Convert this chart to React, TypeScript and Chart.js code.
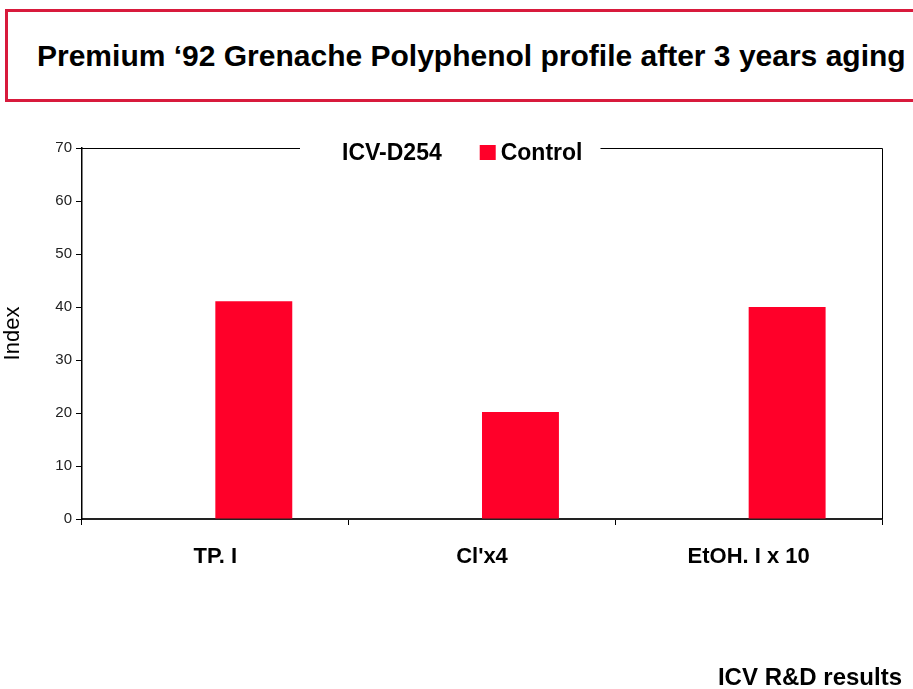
import React, { useEffect, useRef } from "react";
import { Chart, registerables } from "chart.js";

Chart.register(...registerables);

const categories = ["TP. I", "Cl'x4", "EtOH. I x 10"];
const seriesNames = ["ICV-D254", "Control"];
const icvValues = [0, 0, 0];
const controlValues = [41.1, 20.2, 40.0];
const yTicks = [0, 10, 20, 30, 40, 50, 60, 70];

const RED = "#FF0029";
const FONT = "'Liberation Sans', Arial, sans-serif";

const frameLegendPlugin = {
  id: "frameLegend",
  afterDraw(chart: any) {
    const { ctx, chartArea } = chart;
    const { left, right, top, bottom } = chartArea;
    ctx.save();
    ctx.font = `bold 23px ${FONT}`;
    const box = 16;
    const gapBoxText = 5;
    const itemGap = 38;
    const w1 = ctx.measureText(seriesNames[0]).width;
    const w2 = ctx.measureText(seriesNames[1]).width;
    const total = box + gapBoxText + w1 + itemGap + box + gapBoxText + w2;
    const startX = left + 239;
    const gapL = startX - 21;
    const gapR = startX + total + 18;
    // frame: top and right edges of plot
    ctx.strokeStyle = "#000";
    ctx.lineWidth = 1;
    ctx.beginPath();
    ctx.moveTo(left, top + 0.5);
    ctx.lineTo(gapL, top + 0.5);
    ctx.moveTo(gapR, top + 0.5);
    ctx.lineTo(right + 0.5, top + 0.5);
    ctx.lineTo(right + 0.5, bottom);
    ctx.stroke();
    // legend items
    const cy = top + 5;
    let x = startX;
    ctx.fillStyle = "#FFFFFF";
    ctx.fillRect(x, cy - box / 2, box, 15);
    x += box + gapBoxText;
    ctx.fillStyle = "#000";
    ctx.textBaseline = "middle";
    ctx.textAlign = "left";
    ctx.fillText(seriesNames[0], x, cy + 1);
    x += w1 + itemGap;
    ctx.fillStyle = RED;
    ctx.fillRect(x, cy - box / 2, box, 15);
    x += box + gapBoxText;
    ctx.fillStyle = "#000";
    ctx.fillText(seriesNames[1], x, cy + 1);
    ctx.restore();
  },
};

export default function App() {
  const ref = useRef<HTMLCanvasElement>(null);
  useEffect(() => {
    if (!ref.current) return;
    const chart = new Chart(ref.current, {
      type: "bar",
      data: {
        labels: categories,
        datasets: [
          {
            label: seriesNames[0],
            data: icvValues,
            backgroundColor: "#FFFFFF",
            borderWidth: 0,
            categoryPercentage: 0.577,
            barPercentage: 1.0,
          },
          {
            label: seriesNames[1],
            data: controlValues,
            backgroundColor: RED,
            borderWidth: 0,
            categoryPercentage: 0.577,
            barPercentage: 1.0,
          },
        ],
      },
      options: {
        animation: false,
        responsive: false,
        maintainAspectRatio: false,
        layout: { padding: { top: 148, right: 31, left: 0, bottom: 0 } },
        plugins: {
          legend: { display: false },
          tooltip: { enabled: false },
          title: { display: false },
        },
        scales: {
          x: {
            offset: true,
            grid: {
              display: true,
              drawOnChartArea: false,
              drawTicks: true,
              tickLength: 6,
              color: "#000",
              offset: true,
            },
            border: { display: true, color: "#222", width: 2 },
            ticks: {
              color: "#000",
              font: { family: FONT, size: 22, weight: "bold" },
              padding: 19,
              maxRotation: 0,
            },
            afterFit(scale: any) {
              scale.height = 170;
            },
          },
          y: {
            min: 0,
            max: 70,
            afterBuildTicks(scale: any) {
              scale.ticks = yTicks.map((v) => ({ value: v }));
            },
            grid: {
              display: true,
              drawOnChartArea: false,
              drawTicks: true,
              tickLength: 6,
              color: "#000",
            },
            border: { display: true, color: "#000", width: 1.5 },
            ticks: {
              color: "#222",
              font: { family: FONT, size: 15 },
              padding: 4,
            },
            title: {
              display: true,
              text: "Index",
              color: "#000",
              font: { family: FONT, size: 22 },
              padding: { top: 0, bottom: 0 },
            },
            afterFit(scale: any) {
              scale.width = 82;
            },
          },
        },
      },
      plugins: [frameLegendPlugin],
    });
    return () => chart.destroy();
  }, []);

  return (
    <div
      style={{
        position: "fixed",
        left: 0,
        top: 0,
        width: 913,
        height: 689,
        background: "#fff",
        overflow: "hidden",
        fontFamily: FONT,
      }}
    >
      <div
        style={{
          position: "absolute",
          left: 5,
          top: 9,
          width: 920,
          height: 87,
          border: "3px solid #D81A3C",
          boxSizing: "content-box",
        }}
      />
      <div
        style={{
          position: "absolute",
          left: 37,
          top: 39,
          fontWeight: "bold",
          fontSize: 30,
          color: "#000",
          whiteSpace: "nowrap",
        }}
      >
        Premium ‘92 Grenache Polyphenol profile after 3 years aging
      </div>
      <canvas ref={ref} width={913} height={689} style={{ position: "absolute", left: 0, top: 0 }} />
      <div
        style={{
          position: "absolute",
          right: 11,
          top: 663,
          fontWeight: "bold",
          fontSize: 24,
          color: "#000",
          whiteSpace: "nowrap",
        }}
      >
        ICV R&amp;D results
      </div>
    </div>
  );
}
